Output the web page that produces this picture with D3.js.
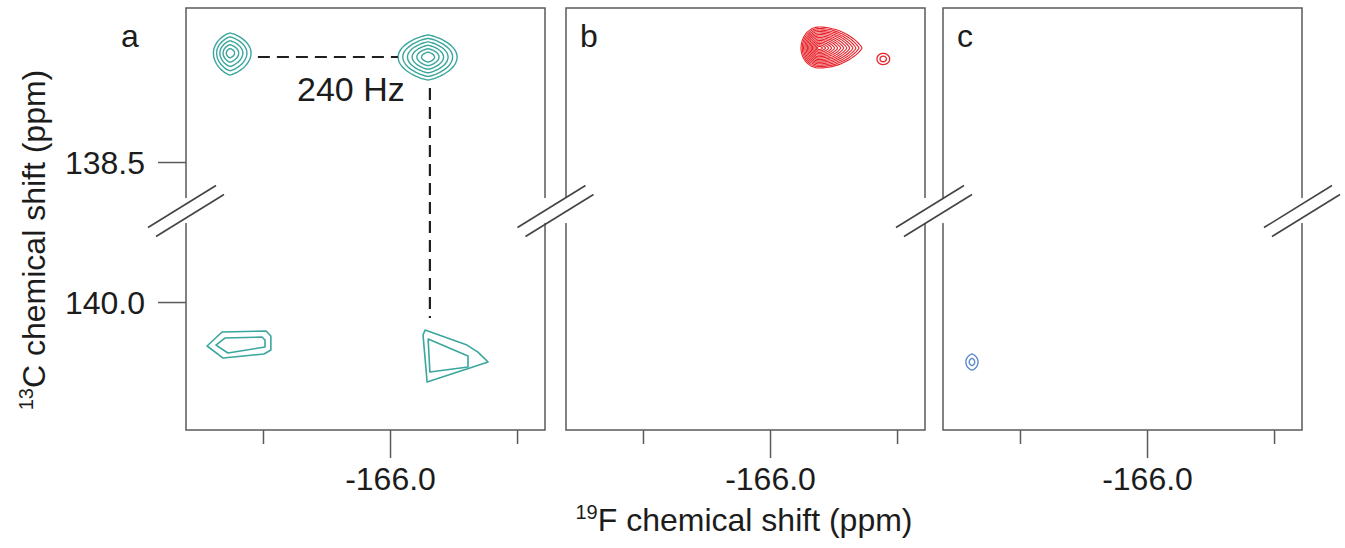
<!DOCTYPE html>
<html>
<head>
<meta charset="utf-8">
<script src="https://cdn.jsdelivr.net/npm/d3@7"></script>
<style>
  html, body { margin: 0; padding: 0; background: #fff; }
  svg { display: block; font-family: "Liberation Sans", Arial, Helvetica, sans-serif; }
</style>
</head>
<body>
<div id="chart"></div>
<script>
// ---- data (ppm) ----
var panelNames = ["a", "b", "c"];
var xTickValues = [-165.5, -166.0, -166.5];
var xTickLabels = ["", "-166.0", ""];
var yTickValues = [138.5, 140.0];
var yTickLabels = ["138.5", "140.0"];
var xDomain = [-165.197, -166.610];
var yDomain = [136.850, 141.371];
var axisBreakC = [138.886, 139.154];

// peaks drawn as nested contours: panel, 19F centre, 13C centre,
// half widths [left, right, up, down] in ppm, number of contour levels
var tealPeaks = [
    {panel: 0, f: -165.370, c: 137.332, ext: [0.065, 0.083, 0.214, 0.236], levels: 5},
    {panel: 0, f: -166.150, c: 137.375, ext: [0.118, 0.114, 0.236, 0.246], levels: 6}
];
var redPeaks = [
    {panel: 1, f: -166.193, c: 137.279, ext: [0.071, 0.169, 0.225, 0.214], levels: 14}
];
var redSmallPeaks = [
    {panel: 1, f: -166.445, c: 137.396, ext: [0.024, 0.026, 0.060, 0.060], levels: 2}
];
var bluePeaks = [
    {panel: 2, f: -165.311, c: 140.643, ext: [0.024, 0.024, 0.086, 0.086], levels: 2}
];
// low level cross peaks read as polygons [19F, 13C]
var tealPolygons = [
    [[-165.280, 140.471], [-165.339, 140.321], [-165.512, 140.311], [-165.531, 140.364],
     [-165.531, 140.514], [-165.504, 140.557], [-165.343, 140.600]],
    [[-165.315, 140.461], [-165.350, 140.386], [-165.496, 140.375], [-165.508, 140.407],
     [-165.508, 140.482], [-165.362, 140.546]],
    [[-166.138, 140.300], [-166.303, 140.461], [-166.346, 140.536], [-166.386, 140.643],
     [-166.146, 140.857], [-166.130, 140.354]],
    [[-166.150, 140.396], [-166.307, 140.579], [-166.307, 140.696], [-166.157, 140.750]]
];
// 240 Hz coupling markers: [[f1, c1], [f2, c2]]
var couplingLines = [
    [[-165.480, 137.375], [-166.031, 137.375]],
    [[-166.157, 137.707], [-166.157, 140.171]]
];
var couplingLabel = {text: "240 Hz", f: -165.634, c: 137.846};

// ---- layout ----
var width = 1345, height = 548;
var plotTop = 8, panelW = 359, panelH = 422;
var panelLeft = [186, 566, 943];
var frameColor = "#5a5a5a", textColor = "#1c1c1c";

var svg = d3.select("#chart").append("svg")
    .attr("width", width).attr("height", height);

var x = d3.scaleLinear().domain(xDomain).range([0, panelW]);
var y = d3.scaleLinear().domain(yDomain).range([plotTop, plotTop + panelH]);

var panels = panelLeft.map(function(left, i){
    var g = svg.append("g").attr("transform", "translate(" + left + ",0)");
    g.append("rect")
        .attr("x", 0).attr("y", plotTop)
        .attr("width", panelW).attr("height", panelH)
        .attr("fill", "none").attr("stroke", frameColor).attr("stroke-width", 1.5);

    var xAxis = d3.axisBottom(x).tickValues(xTickValues)
        .tickFormat(function(d, k){ return xTickLabels[k]; })
        .tickSize(14).tickSizeOuter(0);
    var ax = g.append("g").attr("transform", "translate(0," + (plotTop + panelH) + ")").call(xAxis);
    ax.select(".domain").remove();
    ax.selectAll("line").attr("stroke", frameColor).attr("stroke-width", 1.5)
        .attr("y2", function(d, k){ return xTickLabels[k] ? 28 : 14; });
    ax.selectAll("text").attr("y", 60).attr("dy", 0)
        .attr("font-size", 32).attr("font-family", null).attr("fill", textColor);

    g.append("text").attr("x", i === 0 ? -65 : 14).attr("y", 47)
        .attr("font-size", 32).attr("fill", textColor).text(panelNames[i]);
    return g;
});

// y axis on panel a only
var yAxis = d3.axisLeft(y).tickValues(yTickValues)
    .tickFormat(function(d, k){ return yTickLabels[k]; })
    .tickSize(28).tickPadding(13).tickSizeOuter(0);
var ay = panels[0].append("g").call(yAxis);
ay.select(".domain").remove();
ay.selectAll("line").attr("stroke", frameColor).attr("stroke-width", 1.5);
ay.selectAll("text").attr("dy", "0.36em").attr("font-size", 32)
    .attr("font-family", null).attr("fill", textColor);

// contour outline around a centre, with separate extents per side
function blob(cx, cy, l, r, u, d, sharpX, sharpRight){
    var pts = [];
    for (var i = 0; i < 72; i++){
        var t = 2 * Math.PI * i / 72, c = Math.cos(t), s = Math.sin(t);
        var px = Math.sign(c) * Math.pow(Math.abs(c), sharpX) * (c > 0 ? r : l);
        var py = Math.sign(s) * Math.pow(Math.abs(s), c > 0 ? sharpRight : 1) * (s > 0 ? d : u);
        pts.push([cx + px, cy + py]);
    }
    return pts;
}
var closedLine = d3.line().curve(d3.curveCatmullRomClosed);

function drawPeaks(list, color, minScale, sharpX, sharpRight, lw){
    list.forEach(function(p){
        var g = panels[p.panel];
        var cx = x(p.f), cy = y(p.c);
        var l = Math.abs(x(p.f + p.ext[0]) - cx), r = Math.abs(x(p.f - p.ext[1]) - cx);
        var u = Math.abs(y(p.c - p.ext[2]) - cy), d = Math.abs(y(p.c + p.ext[3]) - cy);
        d3.range(p.levels).forEach(function(k){
            var s = p.levels > 1 ? 1 - k * (1 - minScale) / (p.levels - 1) : 1;
            g.append("path")
                .attr("d", closedLine(blob(cx, cy, l * s, r * s, u * s, d * s, sharpX, sharpRight)))
                .attr("fill", "none").attr("stroke", color).attr("stroke-width", lw);
        });
    });
}
drawPeaks(tealPeaks, "#3aa69d", 0.22, 1.5, 1, 1.4);
drawPeaks(redPeaks, "#e8242b", 0.08, 1, 1.6, 1.1);
drawPeaks(redSmallPeaks, "#e8242b", 0.5, 1, 1, 1.3);
drawPeaks(bluePeaks, "#5d8bd0", 0.45, 1.4, 1, 1.4);

var polyLine = d3.line().x(function(d){ return x(d[0]); }).y(function(d){ return y(d[1]); })
    .curve(d3.curveLinearClosed);
panels[0].selectAll(".poly").data(tealPolygons).enter().append("path")
    .attr("class", "poly").attr("d", polyLine)
    .attr("fill", "none").attr("stroke", "#3aa69d").attr("stroke-width", 1.6)
    .attr("stroke-linejoin", "round");

// coupling annotation
panels[0].selectAll(".coupling").data(couplingLines).enter().append("line")
    .attr("class", "coupling")
    .attr("x1", function(d){ return x(d[0][0]); }).attr("y1", function(d){ return y(d[0][1]); })
    .attr("x2", function(d){ return x(d[1][0]); }).attr("y2", function(d){ return y(d[1][1]); })
    .attr("stroke", "#1f1f1f").attr("stroke-width", 2.2).attr("stroke-dasharray", "12,7");
panels[0].append("text")
    .attr("x", x(couplingLabel.f)).attr("y", y(couplingLabel.c))
    .attr("font-size", 34).attr("fill", textColor).text(couplingLabel.text);

// axis breaks
var breakX = [panelLeft[0], (panelLeft[0] + panelW + panelLeft[1]) / 2,
              (panelLeft[1] + panelW + panelLeft[2]) / 2, panelLeft[2] + panelW];
var by0 = y(axisBreakC[0]), by1 = y(axisBreakC[1]), byc = (by0 + by1) / 2;
breakX.forEach(function(bx){
    svg.append("rect").attr("x", bx - 15).attr("y", by0)
        .attr("width", 30).attr("height", by1 - by0).attr("fill", "#fff");
    [[-4, -4], [4, 5]].forEach(function(o){
        svg.append("line")
            .attr("x1", bx + o[0] - 34).attr("y1", byc + o[1] + 21)
            .attr("x2", bx + o[0] + 34).attr("y2", byc + o[1] - 21)
            .attr("stroke", "#444").attr("stroke-width", 1.6);
    });
});

// axis titles
var xt = svg.append("text")
    .attr("x", (panelLeft[0] + panelLeft[2] + panelW) / 2).attr("y", 531)
    .attr("text-anchor", "middle").attr("font-size", 32).attr("fill", textColor);
xt.append("tspan").attr("font-size", 20).attr("dy", -12).text("19");
xt.append("tspan").attr("dy", 12).text("F chemical shift (ppm)");

var yt = svg.append("text")
    .attr("transform", "translate(45,240) rotate(-90)")
    .attr("text-anchor", "middle").attr("font-size", 32).attr("fill", textColor);
yt.append("tspan").attr("font-size", 20).attr("dy", -12).text("13");
yt.append("tspan").attr("dy", 12).text("C chemical shift (ppm)");
</script>
</body>
</html>
